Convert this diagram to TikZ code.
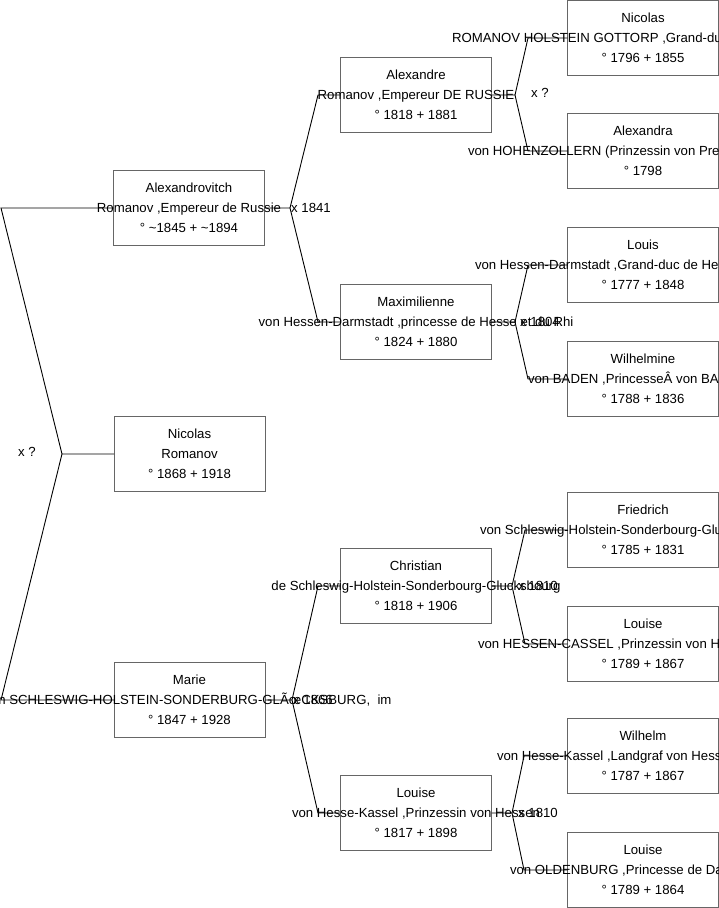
\documentclass[tikz,border=0pt]{standalone}
\usepackage{fontspec}
\setmainfont{Liberation Sans}
\begin{document}
\begin{tikzpicture}[x=1pt,y=-1pt,
  pbox/.style={draw=black!60, line width=1pt, minimum width=151pt, minimum height=75pt, inner sep=0pt, outer sep=0pt, anchor=north west},
  ptext/.style={align=center, inner sep=0pt, font=\fontsize{13.2}{20}\selectfont},
  conn/.style={draw=black, line width=0.9pt},
  mlabel/.style={anchor=west, inner sep=0pt, font=\fontsize{13.2}{15}\selectfont}]
\useasboundingbox (0,0) rectangle (719,908);
\clip (0,0) rectangle (719,908);
% generation 0
\node[pbox] (A0) at (113.5,170.5) {};
\node[pbox] (N0) at (114,416.5) {};
\node[pbox] (M0) at (114,662.5) {};
% generation 1
\node[pbox] (G1a) at (340.5,57.5) {};
\node[pbox] (G1b) at (340.5,284.5) {};
\node[pbox] (G1c) at (340.5,548.5) {};
\node[pbox] (G1d) at (340.5,775.5) {};
% generation 2
\node[pbox] (G2a) at (567.5,0.5) {};
\node[pbox] (G2b) at (567.5,113.5) {};
\node[pbox] (G2c) at (567.5,227.5) {};
\node[pbox] (G2d) at (567.5,341.5) {};
\node[pbox] (G2e) at (567.5,492.5) {};
\node[pbox] (G2f) at (567.5,606.5) {};
\node[pbox] (G2g) at (567.5,718.5) {};
\node[pbox] (G2h) at (567.5,832.5) {};
% connectors
\coordinate (f0) at (62,454);
\coordinate (f0u) at (1,208);
\coordinate (f0d) at (1,700);
\draw[conn] (N0.west) -- (f0) -- (f0u) -- (A0.west);
\draw[conn] (f0) -- (f0d) -- (M0.west);
\coordinate (fA) at (290,208);
\coordinate (fAu) at (318,95);
\coordinate (fAd) at (318,322);
\draw[conn] (A0.east) -- (fA) -- (fAu) -- (G1a.west);
\draw[conn] (fA) -- (fAd) -- (G1b.west);
\coordinate (fM) at (292,700);
\coordinate (fMu) at (318,586);
\coordinate (fMd) at (318,813);
\draw[conn] (M0.east) -- (fM) -- (fMu) -- (G1c.west);
\draw[conn] (fM) -- (fMd) -- (G1d.west);
\coordinate (fa) at (515,95);
\coordinate (fau) at (528,38);
\coordinate (fad) at (528,151);
\draw[conn] (G1a.east) -- (fa) -- (fau) -- (G2a.west);
\draw[conn] (fa) -- (fad) -- (G2b.west);
\coordinate (fb) at (515,322);
\coordinate (fbu) at (528,265);
\coordinate (fbd) at (528,379);
\draw[conn] (G1b.east) -- (fb) -- (fbu) -- (G2c.west);
\draw[conn] (fb) -- (fbd) -- (G2d.west);
\coordinate (fc) at (512,586);
\coordinate (fcu) at (525,530);
\coordinate (fcd) at (525,644);
\draw[conn] (G1c.east) -- (fc) -- (fcu) -- (G2e.west);
\draw[conn] (fc) -- (fcd) -- (G2f.west);
\coordinate (fd) at (512,813);
\coordinate (fdu) at (524,756);
\coordinate (fdd) at (524,870);
\draw[conn] (G1d.east) -- (fd) -- (fdu) -- (G2g.west);
\draw[conn] (fd) -- (fdd) -- (G2h.west);
% texts
\node[ptext] (A0t) at (A0.center) {Alexandrovitch\\Romanov ,Empereur de Russie\\° \textasciitilde1845 + \textasciitilde1894};
\node[ptext] (N0t) at (N0.center) {Nicolas\\Romanov\\° 1868 + 1918};
\node[ptext] (M0t) at (M0.center) {Marie\\\makebox[404pt][r]{von SCHLESWIG-HOLSTEIN-SONDERBURG-GLÃœCKSBURG,\ \ im}\\° 1847 + 1928};
\node[ptext] (G1at) at (G1a.center) {Alexandre\\Romanov ,Empereur DE RUSSIE\\° 1818 + 1881};
\node[ptext] (G1bt) at (G1b.center) {Maximilienne\\von Hessen-Darmstadt ,princesse de Hesse et du Rhi\\° 1824 + 1880};
\node[ptext] (G1ct) at (G1c.center) {Christian\\de Schleswig-Holstein-Sonderbourg-Glucksbourg\\° 1818 + 1906};
\node[ptext] (G1dt) at (G1d.center) {Louise\\von Hesse-Kassel ,Prinzessin von Hessen\\° 1817 + 1898};
\node[ptext] (G2at) at (G2a.center) {Nicolas\\\makebox[382pt][l]{ROMANOV HOLSTEIN GOTTORP ,Grand-duc}\\° 1796 + 1855};
\node[ptext] (G2bt) at (G2b.center) {Alexandra\\\makebox[350pt][l]{von HOHENZOLLERN (Prinzessin von Preu}\\° 1798};
\node[ptext] (G2ct) at (G2c.center) {Louis\\\makebox[336pt][l]{von Hessen-Darmstadt ,Grand-duc de Hes}\\° 1777 + 1848};
\node[ptext] (G2dt) at (G2d.center) {Wilhelmine\\\makebox[230pt][l]{von BADEN ,PrincesseÂ von BAD}\\° 1788 + 1836};
\node[ptext] (G2et) at (G2e.center) {Friedrich\\\makebox[326pt][l]{von Schleswig-Holstein-Sonderbourg-Glu}\\° 1785 + 1831};
\node[ptext] (G2ft) at (G2f.center) {Louise\\\makebox[330pt][l]{von HESSEN-CASSEL ,Prinzessin von He}\\° 1789 + 1867};
\node[ptext] (G2gt) at (G2g.center) {Wilhelm\\\makebox[292pt][l]{von Hesse-Kassel ,Landgraf von Hess}\\° 1787 + 1867};
\node[ptext] (G2ht) at (G2h.center) {Louise\\\makebox[266pt][l]{von OLDENBURG ,Princesse de Da}\\° 1789 + 1864};
% marriage labels
\node[mlabel] (x0) at (18,452) {x ?};
\node[mlabel] (xA) at (291,208) {x 1841};
\node[mlabel] (xM) at (293,700) {x 1866};
\node[mlabel] (xa) at (531,93) {x ?};
\node[mlabel] (xb) at (520,322) {x 1804};
\node[mlabel] (xc) at (518,586) {x 1810};
\node[mlabel] (xd) at (518,813) {x 1810};
\end{tikzpicture}
\end{document}
